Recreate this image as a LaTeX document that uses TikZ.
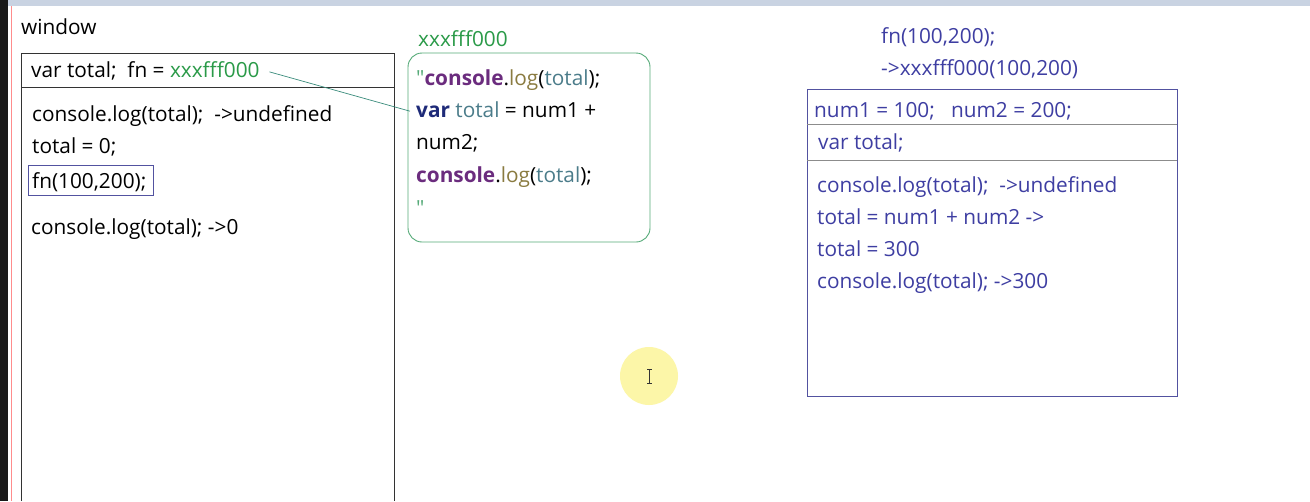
\documentclass[tikz,border=0pt]{standalone}
\usepackage{fontspec}
\setmainfont{Open Sans}
\newfontfamily\rawfont{Open Sans}
\definecolor{addrgreen}{HTML}{2A9A48}
\definecolor{linkteal}{HTML}{3A8C7C}
\definecolor{heapgreen}{HTML}{55AA78}
\definecolor{callblue}{HTML}{3E3EA2}
\definecolor{callbox}{HTML}{5252A0}
\definecolor{kwpurple}{HTML}{6B2C7E}
\definecolor{kwnavy}{HTML}{1E2A78}
\definecolor{fnolive}{HTML}{8A7B40}
\definecolor{idteal}{HTML}{4B7C8A}
\definecolor{screenbar}{HTML}{C9D3E2}
\definecolor{hilite}{HTML}{FCF6A8}

\tikzset{
  txt/.style={anchor=base west,inner sep=0pt,font=\fontsize{20.8}{24}\selectfont},
  calltxt/.style={txt,text=callblue},
  frameline/.style={draw=black!80,line width=0.9pt},
  sepline/.style={draw=black!45,line width=0.8pt}
}
\newcommand{\qmark}{\textcolor{heapgreen}{\rawfont\symbol{34}}}
\newcommand{\cons}{\textcolor{kwpurple}{\bfseries console}.\textcolor{fnolive}{log}(\textcolor{idteal}{total});}

\begin{document}
\begin{tikzpicture}[x=1pt,y=-1pt]
  \useasboundingbox (0,0) rectangle (1310,501);
  \fill[white] (0,0) rectangle (1310,501);
  % screen edges
  \fill[screenbar] (0,0) rectangle (1310,6);
  \fill[black!90] (0,0) rectangle (8,501);
  \draw[red!45,line width=0.8pt] (11.5,6) -- (11.5,501);

  % window scope
  \node[txt] (win) at (21,34) {window};
  \draw[frameline] (21,501) -- (21,53) -- (394,53) -- (394,501);
  \draw[frameline] (21,87) -- (394,87);
  \node[txt] (vars) at (31,77) {var total;\ \ fn =};
  \node[txt,text=addrgreen,anchor=base west] (addr) at ([xshift=5pt]vars.base east) {xxxfff000};
  \node[txt] (log1) at (32,121) {console.log(total);\ \ ->undefined};
  \node[txt] (set0) at (32,153) {total = 0;};
  \node[txt] (call) at (32,188) {fn(100,200);};
  \draw[draw=callbox,line width=0.8pt] (28,165) rectangle (153,195);
  \node[txt] (log2) at (31,234) {console.log(total); ->0};

  % heap object
  \node[txt,text=addrgreen] (heapname) at (418,46) {xxxfff000};
  \node[draw=heapgreen,line width=0.9pt,rounded corners=14pt,
        minimum width=242pt,minimum height=189pt,inner sep=0pt] (heap) at (529,147.5) {};
  \node[txt] (g1) at (416,85) {\qmark\cons};
  \node[txt] (g2) at (416,117) {\textcolor{kwnavy}{\bfseries var} \textcolor{idteal}{total} = num1 +};
  \node[txt] (g3) at (416,149) {num2;};
  \node[txt] (g4) at (416,182) {\cons};
  \node[txt] (g5) at (416,215) {\qmark};
  \draw[linkteal,line width=0.7pt,shorten <=10pt] (addr.east) -- ([xshift=-6pt,yshift=-2pt]g2.west);

  % call scope
  \node[calltxt] (fncall) at (881,43) {fn(100,200);};
  \node[calltxt] (fnaddr) at (881,75) {->xxxfff000(100,200)};
  \node[draw=callbox,line width=0.9pt,minimum width=370pt,minimum height=307pt,
        inner sep=0pt] (scope) at (992,242.5) {};
  \draw[sepline] (807,124) -- (1177,124);
  \draw[sepline] (807,160) -- (1177,160);
  \node[calltxt] (args) at (814,117) {num1 = 100;\ \ \ num2 = 200;};
  \node[calltxt] (lvar) at (818,149) {var total;};
  \node[calltxt] (r1) at (817,192) {console.log(total);\ \ ->undefined};
  \node[calltxt] (r2) at (817,224) {total = num1 + num2 ->};
  \node[calltxt] (r3) at (817,256) {total = 300};
  \node[calltxt] (r4) at (817,288) {console.log(total); ->300};

  % cursor highlight
  \fill[hilite] (649,376) circle (29);
  \draw[black!80,line width=0.8pt] (647,369) -- (652,369) (649.5,369) -- (649.5,383) (647,383) -- (652,383);
\end{tikzpicture}
\end{document}
